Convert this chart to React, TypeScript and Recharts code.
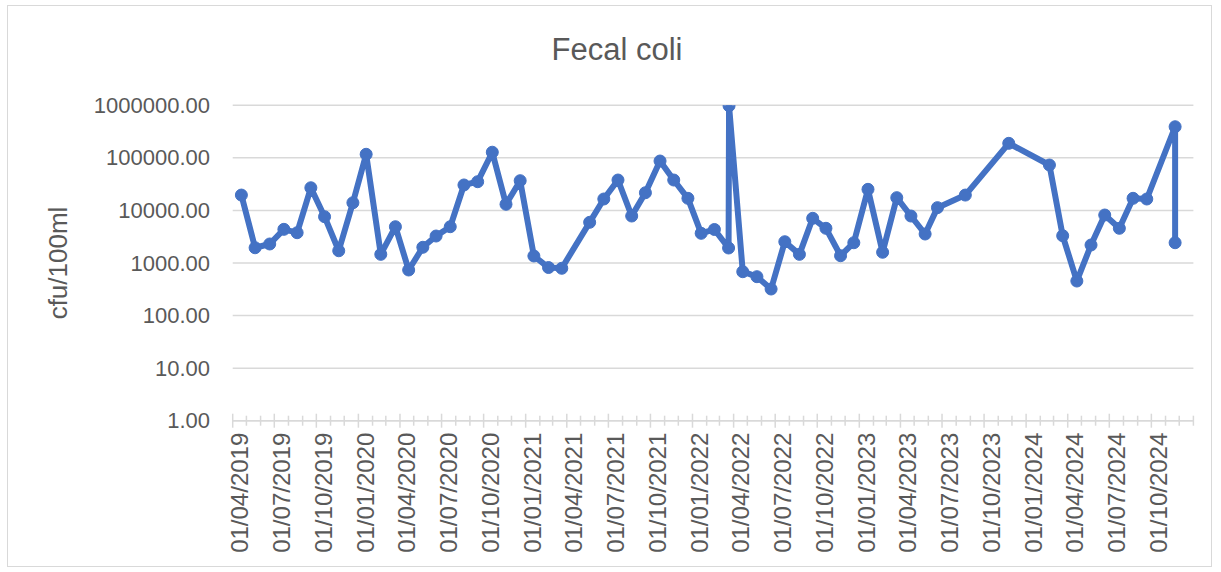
import { LineChart, Line, XAxis, YAxis, CartesianGrid } from 'recharts';

const SAMPLE_DATES = [
  '2019-04-20', '2019-05-20', '2019-06-21', '2019-07-22', '2019-08-20', '2019-09-19',
  '2019-10-19', '2019-11-19', '2019-12-20', '2020-01-18', '2020-02-19', '2020-03-22',
  '2020-04-20', '2020-05-21', '2020-06-19', '2020-07-20', '2020-08-19', '2020-09-18',
  '2020-10-20', '2020-11-19', '2020-12-20', '2021-01-19', '2021-02-20', '2021-03-21',
  '2021-05-21', '2021-06-21', '2021-07-22', '2021-08-21', '2021-09-20', '2021-10-22',
  '2021-11-21', '2021-12-22', '2022-01-20', '2022-02-18', '2022-03-21', '2022-03-22',
  '2022-04-21', '2022-05-22', '2022-06-22', '2022-07-22', '2022-08-23', '2022-09-21',
  '2022-10-20', '2022-11-21', '2022-12-20', '2023-01-20', '2023-02-21', '2023-03-24',
  '2023-04-24', '2023-05-25', '2023-06-21', '2023-08-21', '2023-11-24', '2024-02-21',
  '2024-03-21', '2024-04-21', '2024-05-22', '2024-06-21', '2024-07-23', '2024-08-22',
  '2024-09-21', '2024-11-22', '2024-11-22',
];

const FECAL_COLI = [
  19600, 1950, 2300, 4370, 3770, 27000,
  7600, 1710, 14000, 117000, 1460, 4900,
  736, 1990, 3260, 4900, 30500, 35200,
  128000, 13100, 36800, 1360, 820, 793,
  5940, 16500, 37900, 7830, 21700, 87100,
  37900, 17000, 3670, 4340, 1930, 980000,
  683, 549, 320, 2540, 1460, 7080,
  4570, 1375, 2430, 25200, 1600, 17500,
  7830, 3560, 11300, 19600, 189000, 73100,
  3300, 454, 2200, 8180, 4570, 17000,
  16500, 391000, 2430,
];

const X_LABELS = [
  '01/04/2019', '01/07/2019', '01/10/2019',
  '01/01/2020', '01/04/2020', '01/07/2020', '01/10/2020',
  '01/01/2021', '01/04/2021', '01/07/2021', '01/10/2021',
  '01/01/2022', '01/04/2022', '01/07/2022', '01/10/2022',
  '01/01/2023', '01/04/2023', '01/07/2023', '01/10/2023',
  '01/01/2024', '01/04/2024', '01/07/2024', '01/10/2024',
];

const Y_TICKS = [1, 10, 100, 1000, 10000, 100000, 1000000];

const BLUE = '#4472C4';
const GRID = '#d9d9d9';
const TEXT = '#595959';
const FONT = '"Liberation Sans", Arial, sans-serif';

const toTime = (dmy: string) => {
  const [d, m, y] = dmy.split('/').map(Number);
  return Date.UTC(y, m - 1, d);
};

const X_START = Date.UTC(2019, 3, 1);
const X_END = Date.UTC(2025, 0, 1);
const labelByTime = new Map(X_LABELS.map((l) => [toTime(l), l]));

// monthly minor ticks across the axis
const monthTicks: number[] = [];
for (let i = 0; i <= 69; i++) monthTicks.push(Date.UTC(2019, 3 + i, 1));

const data = SAMPLE_DATES.map((d, i) => ({ t: Date.parse(d), v: FECAL_COLI[i] }));

function XTick({ x, y, payload }: any) {
  const label = labelByTime.get(payload.value);
  const h = label ? 7 : 5;
  return (
    <g>
      <line x1={x} x2={x} y1={y - h} y2={y + h} stroke={GRID} strokeWidth={1.5} />
      {label && (
        <text
          x={x + 7}
          y={y + 12}
          transform={`rotate(-90 ${x + 7} ${y + 12})`}
          textAnchor="end"
          dominantBaseline="central"
          fill={TEXT}
          fontSize={24}
          fontFamily={FONT}
        >
          {label}
        </text>
      )}
    </g>
  );
}

function YTick({ y, payload }: any) {
  return (
    <text x={210} y={y} textAnchor="end" dominantBaseline="central" fill={TEXT} fontSize={22} fontFamily={FONT}>
      {Number(payload.value).toFixed(2)}
    </text>
  );
}

export default function App() {
  return (
    <div style={{ position: 'absolute', left: 0, top: 0, width: 1221, height: 572, background: '#fff', fontFamily: FONT }}>
      <div
        style={{
          position: 'absolute', left: 7, top: 5, width: 1205, height: 562,
          border: `1.5px solid ${GRID}`, boxSizing: 'border-box',
        }}
      />
      <div
        style={{
          position: 'absolute', left: 617, top: 50, transform: 'translate(-50%, -50%)',
          fontSize: 31, color: TEXT, whiteSpace: 'nowrap',
        }}
      >
        Fecal coli
      </div>
      <div
        style={{
          position: 'absolute', left: 58, top: 263, transform: 'translate(-50%, -50%) rotate(-90deg)',
          fontSize: 26, color: TEXT, whiteSpace: 'nowrap',
        }}
      >
        cfu/100ml
      </div>
      <div style={{ position: 'absolute', left: 0, top: 0 }}>
        <LineChart width={1221} height={572} data={data} margin={{ top: 105.3, right: 27.6, bottom: 11.3, left: 32.7 }}>
          <CartesianGrid vertical={false} stroke={GRID} strokeWidth={1.5} />
          <XAxis
            dataKey="t"
            type="number"
            domain={[X_START, X_END]}
            ticks={monthTicks}
            interval={0}
            height={140}
            tickSize={0}
            tickMargin={0}
            tickLine={false}
            axisLine={{ stroke: GRID, strokeWidth: 1.5 }}
            tick={<XTick />}
            allowDataOverflow
          />
          <YAxis
            type="number"
            scale="log"
            domain={[1, 1000000]}
            ticks={Y_TICKS}
            interval={0}
            width={200}
            axisLine={false}
            tickLine={false}
            tick={<YTick />}
            allowDataOverflow
          />
          <Line
            type="linear"
            dataKey="v"
            stroke={BLUE}
            strokeWidth={6}
            strokeLinejoin="round"
            dot={{ r: 6, fill: BLUE, stroke: BLUE, strokeWidth: 1 }}
            activeDot={false}
            isAnimationActive={false}
          />
        </LineChart>
      </div>
    </div>
  );
}
